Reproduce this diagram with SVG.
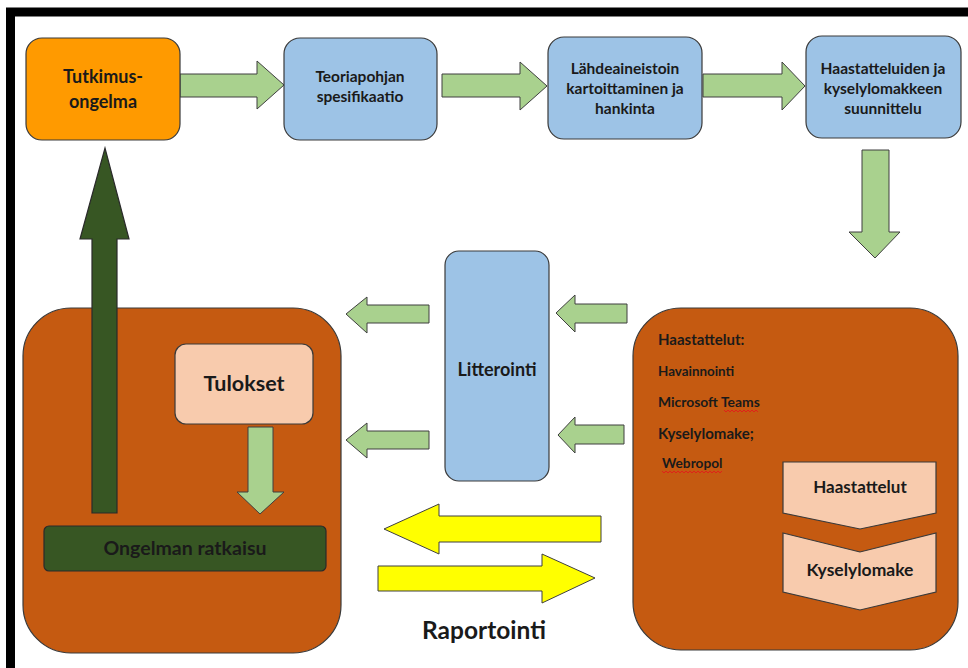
<svg xmlns="http://www.w3.org/2000/svg" width="968" height="668" viewBox="0 0 968 668">
<style>
text{font-family:Lato,"Open Sans","Liberation Sans",sans-serif;font-weight:bold;fill:#1a1a1a}
.c{text-anchor:middle}
.blue{fill:#9DC3E6;stroke:#3a3a3a;stroke-width:1.2}
.garr{fill:#A9D18E;stroke:#3f3f3f;stroke-width:1}
.yarr{fill:#FFFF00;stroke:#3f3f3f;stroke-width:1}
.brown{fill:#C55A11;stroke:#3a3a3a;stroke-width:1.2}
.peach{fill:#F8CBAD;stroke:#3a3a3a;stroke-width:1.2}
.dg{fill:#375623;stroke:#2a2a2a;stroke-width:1.2}
.wave{fill:none;stroke:#e0201a;stroke-width:1}
</style>
<rect width="968" height="668" fill="#fff"/>
<rect x="10.5" y="12" width="980" height="680" fill="none" stroke="#000" stroke-width="9"/>

<g id="connectors">
  <polygon class="garr" points="180,74 257,74 257,61 284,85 257,109 257,97 180,97"/>
  <polygon class="garr" points="442,74 520,74 520,62 547,86 520,110 520,97 442,97"/>
  <polygon class="garr" points="703,74 782,74 782,62 805,86 782,110 782,97 703,97"/>
  <polygon class="garr" points="862,150 889,150 889,232 900,232 875,258 849,232 862,232"/>
  <polygon class="garr" points="627,304 575,304 575,295 556,313 575,332 575,323 627,323"/>
  <polygon class="garr" points="624,425 575,425 575,417 558,435 575,453 575,444 624,444"/>
  <polygon class="garr" points="429,305 367,305 367,297 346,314 367,333 367,323 429,323"/>
  <polygon class="garr" points="429,431 367,431 367,423 346,440 367,458 367,449 429,449"/>
  <polygon class="yarr" points="601,516 439,516 439,504 384,529 439,554 439,542 601,542"/>
  <polygon class="yarr" points="378,566 542,566 542,554 595,578 542,603 542,591 378,591"/>
</g>

<g id="tutkimusongelma">
  <rect x="26" y="38" width="154" height="102" rx="16" fill="#FF9A00" stroke="#3a3a3a" stroke-width="1.2"/>
  <text class="c" x="103" y="83" font-size="18">Tutkimus-</text>
  <text class="c" x="103" y="108" font-size="18">ongelma</text>
</g>
<g id="teoriapohjan">
  <rect class="blue" x="284" y="38" width="153" height="102" rx="16"/>
  <text class="c" x="360" y="82" font-size="15.5">Teoriapohjan</text>
  <text class="c" x="360" y="102" font-size="15.5">spesifikaatio</text>
</g>
<g id="lahdeaineistoin">
  <rect class="blue" x="548" y="37" width="154" height="102" rx="16"/>
  <text class="c" x="625" y="74" font-size="15.5">Lähdeaineistoin</text>
  <text class="c" x="625" y="94" font-size="15.5">kartoittaminen ja</text>
  <text class="c" x="625" y="114" font-size="15.5">hankinta</text>
</g>
<g id="haastatteluiden">
  <rect class="blue" x="806" y="36" width="155" height="102" rx="16"/>
  <text class="c" x="883" y="74" font-size="15.5">Haastatteluiden ja</text>
  <text class="c" x="883" y="94" font-size="15.5">kyselylomakkeen</text>
  <text class="c" x="883" y="114" font-size="15.5">suunnittelu</text>
</g>

<g id="litterointi">
  <rect class="blue" x="445" y="251" width="104" height="230" rx="14"/>
  <text class="c" x="497" y="376" font-size="18">Litterointi</text>
</g>

<g id="aineisto">
  <rect class="brown" x="633" y="308" width="325" height="342" rx="48"/>
  <text x="658" y="345" font-size="15">Haastattelut:</text>
  <text x="658" y="376" font-size="13.4">Havainnointi</text>
  <text x="658" y="407" font-size="13.9">Microsoft Teams</text>
  <text x="658" y="439" font-size="15">Kyselylomake;</text>
  <text x="662" y="468" font-size="13.7">Webropol</text>
  <path class="wave" d="M724,410 l2,2 l2,-2 l2,2 l2,-2 l2,2 l2,-2 l2,2 l2,-2 l2,2 l2,-2 l2,2 l2,-2 l2,2 l2,-2 l2,2 l2,-2 l2,2"/>
  <path class="wave" d="M662,471 l2,2 l2,-2 l2,2 l2,-2 l2,2 l2,-2 l2,2 l2,-2 l2,2 l2,-2 l2,2 l2,-2 l2,2 l2,-2 l2,2 l2,-2 l2,2 l2,-2 l2,2 l2,-2 l2,2 l2,-2 l2,2 l2,-2 l2,2 l2,-2 l2,2 l2,-2 l2,2 l2,-2"/>
</g>
<g id="chevron-haastattelut">
  <polygon class="peach" points="783,462 936,462 936,513 860,529 783,513"/>
  <text class="c" x="860" y="493" font-size="17">Haastattelut</text>
</g>
<g id="chevron-kyselylomake">
  <polygon class="peach" points="783,533 860,552 936,533 936,592 860,610 783,592"/>
  <text class="c" x="860" y="576" font-size="17.5">Kyselylomake</text>
</g>

<g id="tulokset-alue">
  <rect class="brown" x="23" y="308" width="318" height="345" rx="48"/>
</g>
<g id="tulokset">
  <rect class="peach" x="175" y="344" width="138" height="80" rx="11"/>
  <text class="c" x="244" y="391" font-size="21.5">Tulokset</text>
  <polygon class="garr" points="248,427 273,427 273,492 284,492 260,514 237,492 248,492"/>
</g>
<g id="ongelman-ratkaisu">
  <rect class="dg" x="44" y="526" width="282" height="45" rx="5"/>
  <text class="c" x="185" y="555" font-size="19.5">Ongelman ratkaisu</text>
</g>
<g id="paluu">
  <polygon class="dg" points="92,513 92,239 80,239 105,148 129,239 117,239 117,513"/>
</g>

<g id="raportointi">
  <text class="c" x="484" y="639" font-size="24.5">Raportointi</text>
</g>
</svg>
